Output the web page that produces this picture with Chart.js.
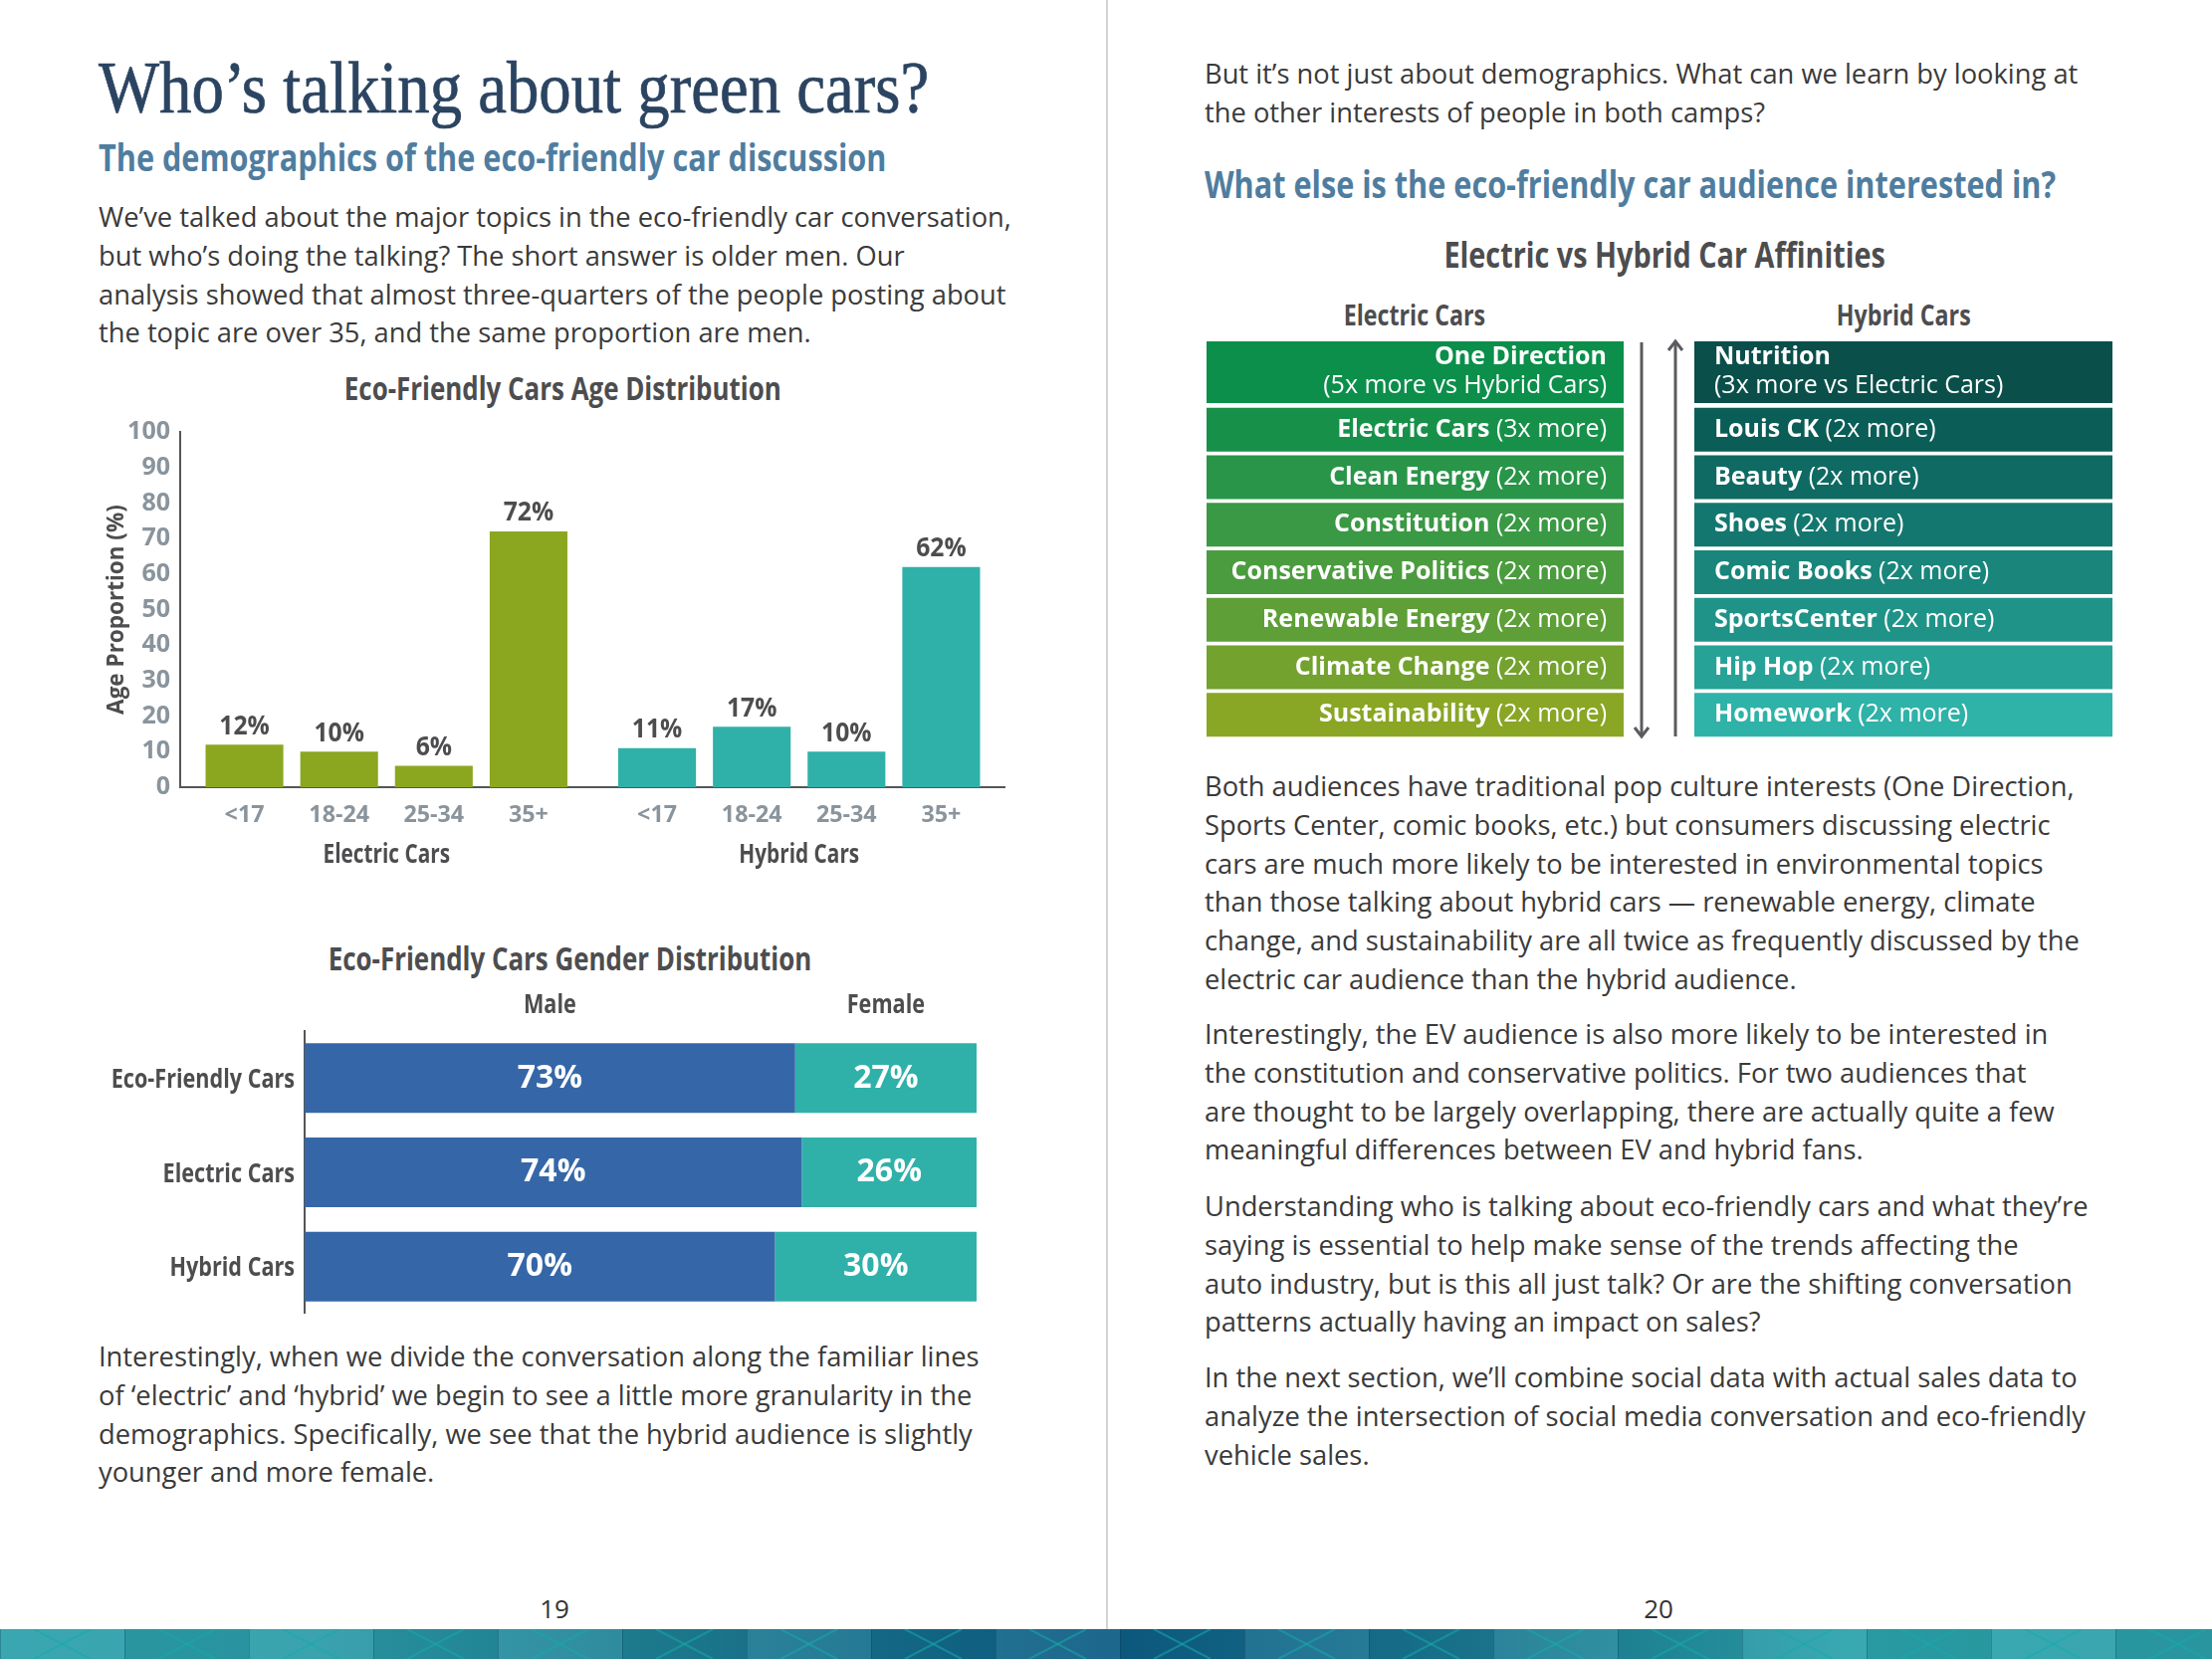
<!DOCTYPE html>
<html>
<head>
<meta charset="utf-8">
<title>Who's talking about green cars?</title>
<script src="https://cdn.jsdelivr.net/npm/chart.js@4.4.1/dist/chart.umd.min.js"></script>
<style>
  html, body { margin: 0; padding: 0; background: #fff; }
  #page { position: relative; width: 2222px; height: 1667px; overflow: hidden; font-family: "Open Sans", sans-serif; }
  .abs { position: absolute; }
  .txt { position: absolute; font-size: 27.3px; line-height: 38.8px; color: #3a3a3a; white-space: nowrap; }
  .title { position: absolute; font-family: "Liberation Serif", serif; font-size: 74px; line-height: 74px; color: #2b4461; -webkit-text-stroke: 0.7px #2b4461; white-space: nowrap; transform: scaleX(0.875); transform-origin: left top; }
  /* condensed bold look: Open Sans Bold squeezed horizontally */
  .cond { position: absolute; font-weight: bold; white-space: nowrap; }
  .cond span { display: inline-block; transform: scaleX(0.8); }
  .sub { color: #4f7d9f; font-size: 38.3px; line-height: 38px; }
  .sub span { transform-origin: left center; }
  .ctitle { color: #4d4d4f; text-align: center; }
  .ctitle span { transform-origin: center center; }
  .box { position: absolute; }
  .pnum { position: absolute; width: 100px; text-align: center; font-size: 26px; line-height: 38px; color: #333; }
  #divider { position: absolute; left: 1111px; top: 0; width: 2px; height: 1637px; background: #d4d4d4; }
  #band { position: absolute; left: 0; top: 1637px; width: 2222px; height: 30px;
    background:
      repeating-linear-gradient(90deg, rgba(255,255,255,0.07) 0 125px, rgba(0,0,0,0.06) 125px 250px),
      linear-gradient(90deg, #2aa0aa 0%, #2b9ca8 14%, #1d7f94 30%, #0c5c84 50%, #1b7b93 68%, #2aa3ab 84%, #2b9ea8 100%); }
</style>
</head>
<body>
<div id="page">

  <!-- left page -->
  <div class="title" style="left:99px;top:51px">Who’s talking about green cars?</div>
  <div class="cond sub" style="left:99px;top:138px"><span>The demographics of the eco-friendly car discussion</span></div>
  <div class="txt" style="left:99px;top:199px">We’ve talked about the major topics in the eco-friendly car conversation,<br>but who’s doing the talking? The short answer is older men. Our<br>analysis showed that almost three-quarters of the people posting about<br>the topic are over 35, and the same proportion are men.</div>

  <div class="cond ctitle" style="left:265px;top:373px;width:600px;font-size:32.4px;line-height:33px"><span>Eco-Friendly Cars Age Distribution</span></div>
  <div class="box" style="left:90px;top:414px;width:920px;height:467px"><canvas id="ageChart"></canvas></div>

  <div class="cond ctitle" style="left:269px;top:946px;width:600px;font-size:32.4px;line-height:33px"><span>Eco-Friendly Cars Gender Distribution</span></div>
  <div class="box" style="left:40px;top:980px;width:941px;height:340px"><canvas id="genderChart"></canvas></div>

  <div class="txt" style="left:99px;top:1344px">Interestingly, when we divide the conversation along the familiar lines<br>of ‘electric’ and ‘hybrid’ we begin to see a little more granularity in the<br>demographics. Specifically, we see that the hybrid audience is slightly<br>younger and more female.</div>
  <div class="pnum" style="left:507px;top:1597px">19</div>

  <div id="divider"></div>

  <!-- right page -->
  <div class="txt" style="left:1210px;top:55px">But it’s not just about demographics. What can we learn by looking at<br>the other interests of people in both camps?</div>
  <div class="cond sub" style="left:1210px;top:165px"><span>What else is the eco-friendly car audience interested in?</span></div>

  <div class="cond ctitle" style="left:1372px;top:238px;width:600px;font-size:36px;line-height:36px"><span>Electric vs Hybrid Car Affinities</span></div>
  <div class="cond ctitle" style="left:1271px;top:301px;width:300px;font-size:29px;line-height:30px"><span>Electric Cars</span></div>
  <div class="cond ctitle" style="left:1762px;top:301px;width:300px;font-size:29px;line-height:30px"><span>Hybrid Cars</span></div>

  <div class="box" style="left:1212px;top:343px;width:419px;height:62px"><canvas id="elecLead"></canvas></div>
  <div class="box" style="left:1212px;top:408px;width:419px;height:334px"><canvas id="elecRest"></canvas></div>
  <div class="box" style="left:1702px;top:343px;width:420px;height:62px"><canvas id="hybLead"></canvas></div>
  <div class="box" style="left:1702px;top:408px;width:420px;height:334px"><canvas id="hybRest"></canvas></div>

  <svg class="abs" style="left:1630px;top:335px" width="80" height="415">
    <g stroke="#5a5b5e" stroke-width="3" fill="none">
      <line x1="19" y1="9" x2="19" y2="404"/>
      <polyline points="12,396 19,405 26,396"/>
      <line x1="53" y1="8" x2="53" y2="405"/>
      <polyline points="46,17 53,8 60,17"/>
    </g>
  </svg>

  <div class="txt" style="left:1210px;top:771px">Both audiences have traditional pop culture interests (One Direction,<br>Sports Center, comic books, etc.) but consumers discussing electric<br>cars are much more likely to be interested in environmental topics<br>than those talking about hybrid cars — renewable energy, climate<br>change, and sustainability are all twice as frequently discussed by the<br>electric car audience than the hybrid audience.</div>
  <div class="txt" style="left:1210px;top:1020px">Interestingly, the EV audience is also more likely to be interested in<br>the constitution and conservative politics. For two audiences that<br>are thought to be largely overlapping, there are actually quite a few<br>meaningful differences between EV and hybrid fans.</div>
  <div class="txt" style="left:1210px;top:1193px">Understanding who is talking about eco-friendly cars and what they’re<br>saying is essential to help make sense of the trends affecting the<br>auto industry, but is this all just talk? Or are the shifting conversation<br>patterns actually having an impact on sales?</div>
  <div class="txt" style="left:1210px;top:1365px">In the next section, we’ll combine social data with actual sales data to<br>analyze the intersection of social media conversation and eco-friendly<br>vehicle sales.</div>
  <div class="pnum" style="left:1616px;top:1597px">20</div>

  <div id="band">
    <svg width="2222" height="30" style="display:block">
      <defs>
        <pattern id="xs" width="125" height="30" patternUnits="userSpaceOnUse">
          <line x1="0" y1="0" x2="0" y2="30" stroke="rgba(0,40,60,0.25)" stroke-width="2"/>
          <line x1="34" y1="0" x2="91" y2="30" stroke="rgba(20,170,170,0.55)" stroke-width="2"/>
          <line x1="91" y1="0" x2="34" y2="30" stroke="rgba(20,170,170,0.55)" stroke-width="2"/>
        </pattern>
      </defs>
      <rect width="2222" height="30" fill="url(#xs)"/>
    </svg>
  </div>
</div>

<script>
// ---------- data ----------
const carTypes = ['Electric Cars', 'Hybrid Cars'];
const ageGroups = ['<17', '18-24', '25-34', '35+'];
const electricAge = [12, 10, 6, 72];
const hybridAge = [11, 17, 10, 62];

const genderGroups = ['Eco-Friendly Cars', 'Electric Cars', 'Hybrid Cars'];
const genders = ['Male', 'Female'];
const malePct = [73, 74, 70];
const femalePct = [27, 26, 30];

const electricTopics = ['One Direction', 'Electric Cars', 'Clean Energy', 'Constitution',
  'Conservative Politics', 'Renewable Energy', 'Climate Change', 'Sustainability'];
const electricTimes = [5, 3, 2, 2, 2, 2, 2, 2];
const hybridTopics = ['Nutrition', 'Louis CK', 'Beauty', 'Shoes',
  'Comic Books', 'SportsCenter', 'Hip Hop', 'Homework'];
const hybridTimes = [3, 2, 2, 2, 2, 2, 2, 2];

// ---------- styles ----------
const SQUEEZE = 0.8;   // no condensed face installed, so squeeze Open Sans Bold
const DARK = '#4d4d4f';
const TICK = '#8a949c';
const AXIS = '#555659';
const GREEN = '#8ba720';
const TEAL = '#2fb1a9';
const BLUE = '#3567a8';
const electricColors = ['#0b8f4a', '#17914a', '#289548', '#3a9944', '#4b9c3e', '#5e9f37', '#73a22e', '#89a624'];
const hybridColors = ['#0a4f4a', '#0b5d57', '#0f6a63', '#14776f', '#19857b', '#209388', '#27a296', '#2fb2a8'];

Chart.defaults.font.family = "'Open Sans', sans-serif";
Chart.defaults.animation = false;
Chart.defaults.plugins.legend.display = false;
Chart.defaults.plugins.tooltip.enabled = false;

function condText(ctx, text, x, y, size, color, align, squeeze = SQUEEZE) {
  ctx.save();
  ctx.font = `bold ${size}px 'Open Sans'`;
  ctx.fillStyle = color;
  ctx.textAlign = align || 'center';
  ctx.textBaseline = 'middle';
  ctx.translate(x, y);
  ctx.scale(squeeze, 1);
  ctx.fillText(text, 0, 0);
  ctx.restore();
}

// ---------- age distribution ----------
const ageLabels = {
  id: 'ageLabels',
  afterDatasetsDraw(chart) {
    const ctx = chart.ctx, x = chart.scales.x, y = chart.scales.y;
    // y ticks
    y.ticks.forEach((t, i) => condText(ctx, String(t.value), x.left - 10, y.getPixelForTick(i), 25, TICK, 'right', 1));
    // car type under each group
    x.ticks.forEach((t, i) => condText(ctx, carTypes[i], x.getPixelForTick(i), x.top + 69, 26, DARK));
    // value above bar, age group under bar
    chart.data.datasets.forEach((ds, i) => {
      chart.getDatasetMeta(i).data.forEach((bar, j) => {
        condText(ctx, ds.data[j] + '%', bar.x, bar.y - 18, 26, DARK, 'center', 0.95);
        condText(ctx, ds.label, bar.x, x.top + 28, 24, TICK, 'center', 0.97);
      });
    });
  }
};

new Chart(document.getElementById('ageChart'), {
  type: 'bar',
  data: {
    labels: carTypes,
    datasets: ageGroups.map((g, i) => ({
      label: g,
      data: [electricAge[i], hybridAge[i]],
      backgroundColor: [GREEN, TEAL],
      categoryPercentage: 0.918,
      barPercentage: 0.821
    }))
  },
  options: {
    responsive: true,
    maintainAspectRatio: false,
    layout: { padding: { left: 0, right: 0, top: 20, bottom: 0 } },
    scales: {
      x: {
        grid: { display: false, drawTicks: false },
        border: { display: true, color: AXIS, width: 2 },
        ticks: { display: false },
        afterFit: s => { s.height = 90; s.paddingLeft = 0; s.paddingRight = 0; }
      },
      y: {
        min: 0,
        max: 100,
        grid: { display: false, drawTicks: false },
        border: { display: true, color: AXIS, width: 2 },
        ticks: { display: false, stepSize: 10 },
        title: {
          display: true,
          text: 'Age Proportion (%)',
          color: DARK,
          font: { size: 22.5, weight: 'bold' },
          padding: { top: 14.5, bottom: 0 }
        },
        afterFit: s => { s.width = 91; s.paddingTop = 0; s.paddingBottom = 0; }
      }
    }
  },
  plugins: [ageLabels]
});

// ---------- gender distribution ----------
const genderLabels = {
  id: 'genderLabels',
  afterDatasetsDraw(chart) {
    const ctx = chart.ctx, y = chart.scales.y;
    y.ticks.forEach((t, i) => condText(ctx, genderGroups[i], chart.chartArea.left - 10, y.getPixelForTick(i) + 2, 27, DARK, 'right'));
    chart.data.datasets.forEach((ds, i) => {
      const bars = chart.getDatasetMeta(i).data;
      // column header over the first row
      condText(ctx, ds.label, (bars[0].x + bars[0].base) / 2, chart.chartArea.top - 26, 27, DARK);
      bars.forEach((bar, j) => {
        condText(ctx, ds.data[j] + '%', (bar.x + bar.base) / 2, bar.y, 33, '#fff', 'center', 0.97);
      });
    });
  }
};

new Chart(document.getElementById('genderChart'), {
  type: 'bar',
  data: {
    labels: genderGroups,
    datasets: [
      { label: genders[0], data: malePct, backgroundColor: BLUE },
      { label: genders[1], data: femalePct, backgroundColor: TEAL }
    ]
  },
  options: {
    indexAxis: 'y',
    responsive: true,
    maintainAspectRatio: false,
    layout: { padding: { left: 0, right: 0, top: 56, bottom: 0 } },
    datasets: { bar: { barPercentage: 0.74, categoryPercentage: 1 } },
    scales: {
      x: { display: false, stacked: true, min: 0, max: 100 },
      y: {
        stacked: true,
        grid: { display: false, drawTicks: false },
        border: { display: true, color: AXIS, width: 2 },
        ticks: { display: false },
        afterFit: s => { s.width = 266; s.paddingTop = 0; s.paddingBottom = 0; }
      }
    }
  },
  plugins: [genderLabels]
});

// ---------- affinities ----------
// side 'left' = right-aligned text (electric column), 'right' = left-aligned (hybrid column)
function affinityChart(id, topics, notes, colors, side, twoLines) {
  const rowText = {
    id: 'rowText',
    afterDatasetsDraw(chart) {
      const ctx = chart.ctx;
      const bold = "bold 25px 'Open Sans'";
      const reg = "25px 'Open Sans'";
      ctx.save();
      ctx.fillStyle = '#fff';
      ctx.textBaseline = 'middle';
      chart.getDatasetMeta(0).data.forEach((bar, i) => {
        const tx = side === 'left' ? bar.x - 17 : bar.base + 20;
        if (twoLines) {
          ctx.textAlign = side === 'left' ? 'right' : 'left';
          ctx.font = bold;
          ctx.fillText(topics[i], tx, bar.y - 15);
          ctx.font = reg;
          ctx.fillText(notes[i], tx, bar.y + 14);
        } else {
          ctx.textAlign = 'left';
          ctx.font = bold;
          const wTopic = ctx.measureText(topics[i] + ' ').width;
          ctx.font = reg;
          const wNote = ctx.measureText(notes[i]).width;
          const start = side === 'left' ? tx - wTopic - wNote : tx;
          ctx.font = bold;
          ctx.fillText(topics[i], start, bar.y);
          ctx.font = reg;
          ctx.fillText(notes[i], start + wTopic, bar.y);
        }
      });
      ctx.restore();
    }
  };
  return new Chart(document.getElementById(id), {
    type: 'bar',
    data: {
      labels: topics,
      datasets: [{
        data: topics.map(() => 1),
        backgroundColor: colors,
        barPercentage: twoLines ? 1 : 0.922,
        categoryPercentage: 1
      }]
    },
    options: {
      indexAxis: 'y',
      responsive: true,
      maintainAspectRatio: false,
      layout: { padding: 0 },
      scales: {
        x: { display: false, min: 0, max: 1 },
        y: { display: false }
      }
    },
    plugins: [rowText]
  });
}

const electricNotes = electricTimes.map((t, i) => i === 0 ? `(${t}x more vs Hybrid Cars)` : `(${t}x more)`);
const hybridNotes = hybridTimes.map((t, i) => i === 0 ? `(${t}x more vs Electric Cars)` : `(${t}x more)`);

affinityChart('elecLead', electricTopics.slice(0, 1), electricNotes.slice(0, 1), electricColors.slice(0, 1), 'left', true);
affinityChart('elecRest', electricTopics.slice(1), electricNotes.slice(1), electricColors.slice(1), 'left', false);
affinityChart('hybLead', hybridTopics.slice(0, 1), hybridNotes.slice(0, 1), hybridColors.slice(0, 1), 'right', true);
affinityChart('hybRest', hybridTopics.slice(1), hybridNotes.slice(1), hybridColors.slice(1), 'right', false);
</script>
</body>
</html>
